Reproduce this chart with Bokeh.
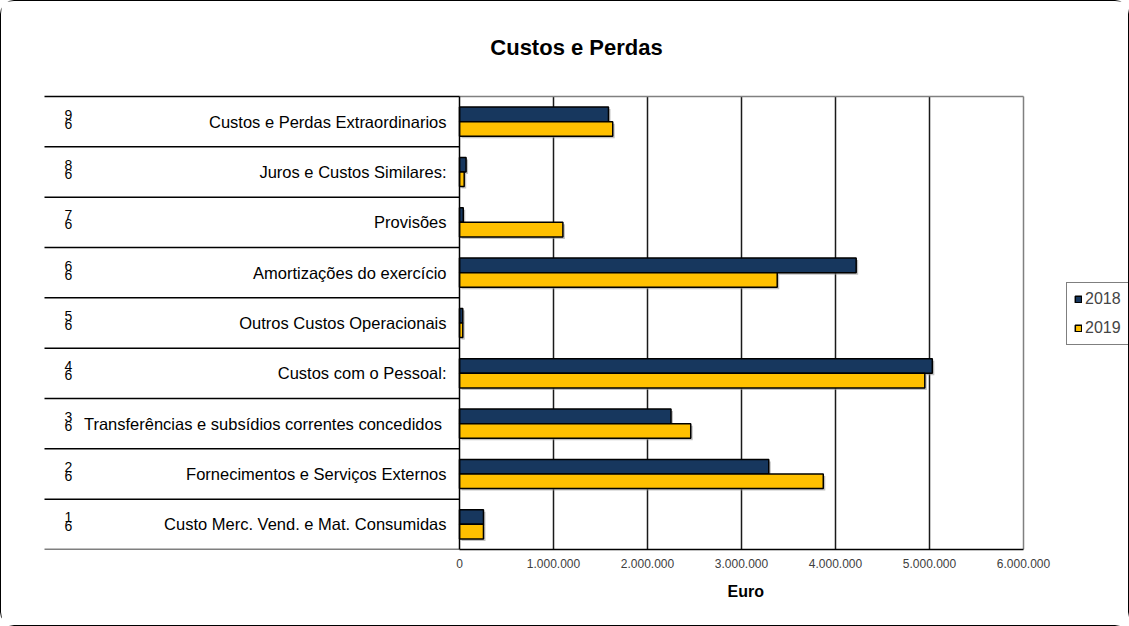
from bokeh.plotting import figure
from bokeh.models import FixedTicker, Legend, LegendItem, ColumnDataSource, Title
from bokeh.core.properties import value
from bokeh.transform import dodge
from bokeh.embed import file_html
from bokeh.resources import INLINE

# ---- data ----
categories = [
    "Custo Merc. Vend. e Mat. Consumidas",
    "Fornecimentos e Serviços Externos",
    "Transferências  e subsídios correntes concedidos",
    "Custos com o Pessoal:",
    "Outros Custos Operacionais",
    "Amortizações do exercício",
    "Provisões",
    "Juros e Custos Similares:",
    "Custos e Perdas Extraordinarios",
]
code_top = ["1", "2", "3", "4", "5", "6", "7", "8", "9"]
code_bottom = ["6", "6", "6", "6", "6", "6", "6", "6", "6"]
years = ["2018", "2019"]
values_2018 = [255000, 3290000, 2250000, 5030000, 35000, 4220000, 40000, 70000, 1585000]
values_2019 = [255000, 3870000, 2460000, 4950000, 35000, 3380000, 1100000, 50000, 1630000]
x_ticks = [0, 1000000, 2000000, 3000000, 4000000, 5000000, 6000000]
x_tick_labels = ["0", "1.000.000", "2.000.000", "3.000.000", "4.000.000", "5.000.000", "6.000.000"]
title_text = "Custos e Perdas"
x_title = "Euro"

FONT = "Liberation Sans"
NAVY = "#17375E"
YELLOW = "#FFC000"

# ---- layout constants (canvas pixels) ----
W, H = 1127, 624
FRAME_BOTTOM = 548          # canvas y of value axis
ROWS_TOP = 95               # canvas y of top row boundary
ZERO_X = 458                # canvas x of value 0
PX_PER_UNIT = 94 / 1e6      # pixels per euro
n = len(categories)
ROW_PX = (FRAME_BOTTOM - ROWS_TOP) / n
SHADOW_PX = 2


def xd(cx):
    return (cx - ZERO_X) / PX_PER_UNIT


def yd(cy):
    return n + 0.5 - (cy - ROWS_TOP) / ROW_PX


xmin, xmax = 0, x_ticks[-1]
pos = list(range(1, n + 1))
boundaries = [i + 0.5 for i in range(0, n + 1)]

p = figure(frame_width=W, frame_height=FRAME_BOTTOM,
           x_range=(xd(0), xd(W)), y_range=(0.5, yd(0)),
           output_backend="svg", toolbar_location=None, y_axis_location=None,
           min_border_left=0, min_border_right=0, min_border_top=0,
           min_border_bottom=H - FRAME_BOTTOM)
p.styles = {"border": "1px solid #000000", "border-radius": "14px"}
p.background_fill_color = "white"
p.border_fill_color = "white"
p.outline_line_color = None
p.xgrid.grid_line_color = None
p.ygrid.grid_line_color = None

# vertical grid lines at the value ticks
inner_ticks = x_ticks[1:-1]
p.segment(x0=inner_ticks, x1=inner_ticks, y0=[0.5] * len(inner_ticks),
          y1=[n + 0.5] * len(inner_ticks), line_color="#1a1a1a", line_width=1.5)

sh_dx = SHADOW_PX / PX_PER_UNIT
sh_dy = SHADOW_PX / ROW_PX
src = ColumnDataSource(dict(y=pos, v18=values_2018, v19=values_2019,
                            s18=[v + sh_dx for v in values_2018],
                            s19=[v + sh_dx for v in values_2019]))
# soft drop shadows
p.hbar(y=dodge("y", 0.145 - sh_dy, range=p.y_range), right="s18", left=sh_dx, height=0.29,
       source=src, fill_color="#9a9a9a", fill_alpha=0.6, line_color=None)
p.hbar(y=dodge("y", -0.145 - sh_dy, range=p.y_range), right="s19", left=sh_dx, height=0.29,
       source=src, fill_color="#9a9a9a", fill_alpha=0.6, line_color=None)

r18 = p.hbar(y=dodge("y", 0.145, range=p.y_range), right="v18", left=0, height=0.29,
             source=src, fill_color=NAVY, line_color="#000000", line_width=1.5)
r19 = p.hbar(y=dodge("y", -0.145, range=p.y_range), right="v19", left=0, height=0.29,
             source=src, fill_color=YELLOW, line_color="#000000", line_width=1.5)

# plot area border (grey top/right), category axis line and row separators
p.segment(x0=[xmin], x1=[xmax], y0=[n + 0.5], y1=[n + 0.5], line_color="#808080", line_width=1.5)
p.segment(x0=[xmax], x1=[xmax], y0=[0.5], y1=[n + 0.5], line_color="#808080", line_width=1.5)
p.segment(x0=[xd(43)] * len(boundaries), x1=[0] * len(boundaries), y0=boundaries, y1=boundaries,
          line_color="#000000", line_width=1.5)
p.segment(x0=[0], x1=[0], y0=[0.5], y1=[n + 0.5], line_color="#000000", line_width=1.5)

# category labels
p.text(x=[0] * n, y=pos, text=categories, x_offset=-13, text_align="right",
       text_baseline="middle", text_font=value(FONT), text_font_size="16.5px",
       text_color="#000000")
# stacked codes
p.text(x=[0] * n, y=pos, text=code_top, x_offset=-391, y_offset=-7, text_align="center",
       text_baseline="middle", text_font=value(FONT), text_font_size="14px",
       text_color="#000000")
p.text(x=[0] * n, y=pos, text=code_bottom, x_offset=-391, y_offset=2, text_align="center",
       text_baseline="middle", text_font=value(FONT), text_font_size="14px",
       text_color="#000000")

# title
p.text(x=[xd(575)], y=[yd(46)], text=[title_text], text_align="center",
       text_baseline="middle", text_font=value(FONT), text_font_size="22px",
       text_font_style="bold", text_color="#000000")

# value axis
p.xaxis.bounds = (xmin, xmax)
p.xaxis.ticker = FixedTicker(ticks=x_ticks)
p.xaxis.major_label_overrides = {t: l for t, l in zip(x_ticks, x_tick_labels)}
p.xaxis.major_label_text_font = FONT
p.xaxis.major_label_text_font_size = "12px"
p.xaxis.major_label_text_color = "#404040"
p.xaxis.major_tick_out = 0
p.xaxis.major_tick_in = 0
p.xaxis.minor_tick_out = 0
p.xaxis.minor_tick_in = 0
p.xaxis.major_label_standoff = 9
p.xaxis.axis_line_color = "#000000"
p.xaxis.axis_line_width = 1.5

# value-axis title, centred under the value scale
p.add_layout(Title(text=x_title, align="left", offset=726, standoff=21,
                   text_font=FONT, text_font_size="16px", text_font_style="bold",
                   text_color="#000000"), "below")

legend = Legend(items=[LegendItem(label=years[0], renderers=[r18]),
                       LegendItem(label=years[1], renderers=[r19])],
                location=(1065, FRAME_BOTTOM - 344))
legend.glyph_width = 8
legend.glyph_height = 8
legend.label_height = 16
legend.label_standoff = 3
legend.spacing = 11
legend.padding = 7
legend.margin = 0
legend.label_text_font = FONT
legend.label_text_font_size = "16px"
legend.border_line_color = "#000000"
legend.border_line_width = 1
legend.background_fill_color = "white"
legend.background_fill_alpha = 1
p.add_layout(legend)

open("out.html", "w").write(file_html(p, INLINE))
